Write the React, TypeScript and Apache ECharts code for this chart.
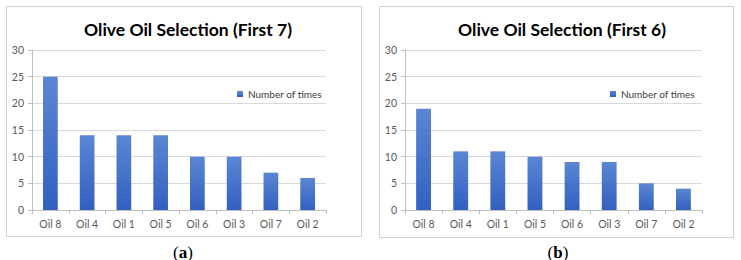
import React, { useEffect, useRef } from "react";
import * as echarts from "echarts";

const categories = ["Oil 8", "Oil 4", "Oil 1", "Oil 5", "Oil 6", "Oil 3", "Oil 7", "Oil 2"];
const valuesFirst7 = [25, 14, 14, 14, 10, 10, 7, 6];
const valuesFirst6 = [19, 11, 11, 10, 9, 9, 5, 4];
const titles = ["Olive Oil Selection (First 7)", "Olive Oil Selection (First 6)"];
const seriesName = "Number of times";
const yTicks = { min: 0, max: 30, interval: 5 };

const barColor = new echarts.graphic.LinearGradient(0, 0, 0, 1, [
  { offset: 0, color: "#5b86d4" },
  { offset: 1, color: "#3260c0" },
]);

export default function App() {
  const ref = useRef<HTMLDivElement>(null);
  useEffect(() => {
    if (!ref.current) return;
    const chart = echarts.init(ref.current, null, { renderer: "svg" });
    const axisLabel = { color: "#595959", fontSize: 10.5, fontFamily: "Lato" };
    const mkX = (gi: number) => ({
      type: "category",
      gridIndex: gi,
      data: categories,
      axisLine: { lineStyle: { color: "#bfbfbf" } },
      axisTick: { show: true, length: 4, lineStyle: { color: "#bfbfbf" } },
      axisLabel: { ...axisLabel, margin: 8 },
    });
    const mkY = (gi: number) => ({
      type: "value",
      gridIndex: gi,
      ...yTicks,
      axisLine: { show: true, lineStyle: { color: "#bfbfbf" } },
      axisTick: { show: true, length: 4, lineStyle: { color: "#bfbfbf" } },
      axisLabel: { ...axisLabel, margin: 8 },
      splitLine: { lineStyle: { color: "#d9d9d9" } },
    });
    const titleStyle = { fontFamily: "Lato", fontWeight: "bold", fontSize: 17.5, color: "#000" };
    const legendBase = {
      data: [seriesName],
      top: 84,
      itemWidth: 6,
      itemHeight: 6,
      itemGap: 4,
      icon: "rect",
      textStyle: { fontFamily: "Lato", fontSize: 10, color: "#404040" },
    };
    const caption = (x: number, letter: string) => ({
      type: "text",
      x,
      y: 252,
      style: {
        text: `({a|${letter}})`,
        fontFamily: "Liberation Serif",
        fontSize: 17,
        fill: "#000",
        align: "center",
        verticalAlign: "middle",
        rich: { a: { fontWeight: "bold", fontFamily: "Liberation Serif", fontSize: 17 } },
      },
    });
    chart.setOption({
      animation: false,
      title: [
        { text: titles[0], left: 183, top: 15, textAlign: "center", textStyle: titleStyle },
        { text: titles[1], left: 557, top: 15, textAlign: "center", textStyle: titleStyle },
      ],
      legend: [
        { ...legendBase, left: 232 },
        { ...legendBase, left: 605 },
      ],
      grid: [
        { left: 32, top: 50, width: 294, height: 160 },
        { left: 405, top: 50, width: 297, height: 160 },
      ],
      xAxis: [mkX(0), mkX(1)],
      yAxis: [mkY(0), mkY(1)],
      series: [
        {
          name: seriesName,
          type: "bar",
          xAxisIndex: 0,
          yAxisIndex: 0,
          data: valuesFirst7,
          barWidth: "40%",
          itemStyle: { color: barColor },
        },
        {
          name: seriesName,
          type: "bar",
          xAxisIndex: 1,
          yAxisIndex: 1,
          data: valuesFirst6,
          barWidth: "40%",
          itemStyle: { color: barColor },
        },
      ],
      graphic: [
        {
          type: "rect",
          shape: { x: 6.5, y: 6.5, width: 355, height: 230 },
          style: { fill: "none", stroke: "#d0d0d0", lineWidth: 1 },
          z: -1,
        },
        {
          type: "rect",
          shape: { x: 379.5, y: 6.5, width: 354, height: 231 },
          style: { fill: "none", stroke: "#d0d0d0", lineWidth: 1 },
          z: -1,
        },
        caption(183, "a"),
        caption(558, "b"),
      ],
    });
    return () => chart.dispose();
  }, []);
  return (
    <div
      ref={ref}
      style={{ position: "fixed", left: 0, top: 0, width: 741, height: 260, background: "#fff" }}
    />
  );
}
